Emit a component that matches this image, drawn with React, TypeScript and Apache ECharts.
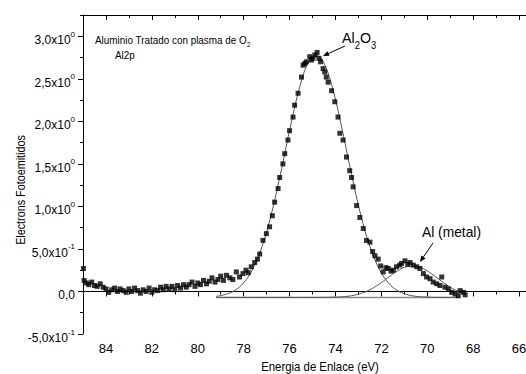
import React, { useEffect, useRef } from 'react';
import * as echarts from 'echarts';

const FONT = "'Liberation Sans', Arial, sans-serif";

// Measured XPS spectrum (Binding energy eV, intensity)
const spectrum: [number, number][] = [
  [84.98, 0.27], [84.95, 0.13], [84.85, 0.10], [84.75, 0.08], [84.62, 0.11], [84.5, 0.07], [84.38, 0.06],
  [84.25, 0.09], [84.12, 0.05], [84.0, 0.03], [83.88, -0.01], [83.75, 0.02], [83.62, 0.04], [83.5, 0.0],
  [83.38, 0.03], [83.25, 0.01], [83.12, -0.01], [83.0, 0.03], [82.88, 0.0], [82.75, 0.04], [82.62, 0.01],
  [82.5, -0.02], [82.38, 0.02], [82.25, 0.0], [82.12, 0.04], [82.0, -0.01], [81.88, 0.02], [81.75, 0.01],
  [81.62, 0.05], [81.5, 0.02], [81.38, 0.06], [81.25, 0.03], [81.12, 0.06], [81.0, 0.02], [80.88, 0.07],
  [80.75, 0.04], [80.62, 0.08], [80.5, 0.05], [80.38, 0.08], [80.25, 0.11], [80.12, 0.06], [80.0, 0.10],
  [79.88, 0.08], [79.75, 0.13], [79.62, 0.09], [79.5, 0.12], [79.38, 0.16], [79.25, 0.11], [79.12, 0.14],
  [79.0, 0.18], [78.88, 0.13], [78.75, 0.19], [78.6, 0.16], [78.47, 0.14], [78.32, 0.23], [78.18, 0.17],
  [78.03, 0.21], [77.9, 0.25], [77.8, 0.22], [77.67, 0.29], [77.52, 0.34], [77.4, 0.38], [77.3, 0.44],
  [77.16, 0.60], [77.01, 0.68], [76.87, 0.76], [76.75, 0.89], [76.65, 1.05], [76.5, 1.21], [76.43, 1.34],
  [76.29, 1.50], [76.21, 1.62], [76.07, 1.78], [76.0, 1.89], [75.85, 2.05], [75.78, 2.19], [75.63, 2.33],
  [75.48, 2.52], [75.41, 2.66], [75.34, 2.68], [75.27, 2.70], [75.12, 2.76], [75.05, 2.72], [74.98, 2.74],
  [74.9, 2.78], [74.8, 2.81], [74.72, 2.74], [74.65, 2.70], [74.54, 2.62], [74.47, 2.58], [74.4, 2.52],
  [74.32, 2.46], [74.17, 2.36], [74.03, 2.23], [73.89, 2.05], [73.81, 1.86], [73.67, 1.78], [73.52, 1.58],
  [73.38, 1.42], [73.3, 1.34], [73.23, 1.23], [73.08, 1.01], [72.94, 0.87], [72.79, 0.74], [72.65, 0.60],
  [72.5, 0.58], [72.38, 0.47], [72.28, 0.42], [72.14, 0.38], [72.03, 0.30], [71.92, 0.23], [71.8, 0.28],
  [71.7, 0.27], [71.58, 0.24], [71.48, 0.25], [71.34, 0.29], [71.2, 0.31], [71.12, 0.33], [70.97, 0.36],
  [70.85, 0.32], [70.75, 0.34], [70.61, 0.31], [70.46, 0.29], [70.32, 0.27], [70.17, 0.21], [70.03, 0.17],
  [69.88, 0.15], [69.74, 0.11], [69.59, 0.09], [69.45, 0.07], [69.37, 0.17], [69.23, 0.05], [69.08, 0.03],
  [68.93, -0.01], [68.79, -0.03], [68.65, -0.05], [68.57, 0.01], [68.43, -0.01], [68.35, -0.04],
];

// Fitted components
const fitX = [79.2, 78.8, 78.4, 78.0, 77.6, 77.2, 76.8, 76.4, 76.0, 75.6, 75.2, 74.85, 74.5, 74.1,
  73.7, 73.3, 72.9, 72.5, 72.1, 71.7, 71.3, 70.9, 70.5, 70.1, 69.7, 69.3, 68.9, 68.6];
const fitAl2O3 = [-0.057, -0.035, 0.011, 0.102, 0.266, 0.528, 0.903, 1.375, 1.891, 2.361, 2.683, 2.78,
  2.683, 2.361, 1.891, 1.375, 0.903, 0.528, 0.266, 0.102, 0.011, -0.035, -0.057, -0.065, -0.069, -0.07, -0.07, -0.07];
const fitMetal = [-0.07, -0.07, -0.07, -0.07, -0.07, -0.07, -0.07, -0.07, -0.07, -0.07, -0.07, -0.07,
  -0.069, -0.067, -0.062, -0.05, -0.024, 0.02, 0.085, 0.165, 0.241, 0.291, 0.297, 0.257, 0.185, 0.104, 0.034, -0.005];
const baselineX = [79.2, 68.6];
const baselineY = [-0.07, -0.07];

const yTickValues = [-0.5, 0, 0.5, 1, 1.5, 2, 2.5, 3];
const yTickMantissa = ['-5,0x10', '0,0', '5,0x10', '1,0x10', '1,5x10', '2,0x10', '2,5x10', '3,0x10'];
const yTickExponent = ['-1', '', '-1', '0', '0', '0', '0', '0'];

const xTitle = 'Energia de Enlace (eV)';
const yTitle = 'Electrons Fotoemitidos';

export default function App() {
  const ref = useRef<HTMLDivElement>(null);
  useEffect(() => {
    if (!ref.current) return;
    const chart = echarts.init(ref.current, undefined, { renderer: 'svg' });
    const zip = (xs: number[], ys: number[]) => xs.map((x, i) => [x, ys[i]]);
    const axisCommonX = { type: 'value', min: 64, max: 85, inverse: true, splitLine: { show: false } };
    const axisCommonY = { type: 'value', min: -0.5, max: 3.25, splitLine: { show: false } };
    const black = { color: '#000', width: 1 };
    const option: any = {
      animation: false,
      backgroundColor: '#fff',
      grid: { left: 83, top: 15, right: -39, bottom: 40, containLabel: false, outerBoundsMode: 'none' },
      xAxis: [
        {
          ...axisCommonX, position: 'bottom', interval: 2,
          axisLine: { lineStyle: black },
          axisTick: { inside: false, length: 5, lineStyle: black },
          axisLabel: { showMaxLabel: false, showMinLabel: false, color: '#000', fontSize: 13, fontFamily: FONT, margin: 8 },
        },
        {
          ...axisCommonX, position: 'bottom', interval: 1,
          axisLine: { show: false },
          axisTick: { inside: false, length: 3, lineStyle: black },
          axisLabel: { show: false },
        },
        {
          ...axisCommonX, position: 'top', interval: 2,
          axisLine: { lineStyle: black },
          axisTick: { inside: true, length: 5, lineStyle: black },
          axisLabel: { show: false },
        },
        {
          ...axisCommonX, position: 'top', interval: 1,
          axisLine: { show: false },
          axisTick: { inside: true, length: 3, lineStyle: black },
          axisLabel: { show: false },
        },
      ],
      yAxis: [
        {
          ...axisCommonY, position: 'left', interval: 0.5,
          axisLine: { show: true, lineStyle: black },
          axisTick: { show: true, inside: false, length: 5, lineStyle: black },
          axisLabel: {
            showMaxLabel: false,
            margin: 8,
            formatter: (v: number) => {
              const i = yTickValues.findIndex((t) => Math.abs(t - v) < 1e-6);
              if (i < 0) return '';
              const e = yTickExponent[i];
              return e ? `{n|${yTickMantissa[i]}}{s|${e}}` : `{n|${yTickMantissa[i]}}`;
            },
            rich: {
              n: { fontSize: 12, fontFamily: FONT, color: '#000', padding: [4, 0, 0, 0], lineHeight: 12, verticalAlign: 'top' },
              s: { fontSize: 8, fontFamily: FONT, color: '#000', lineHeight: 8, verticalAlign: 'top' },
            },
          },
        },
        {
          ...axisCommonY, position: 'left', interval: 0.25,
          axisLine: { show: false },
          axisTick: { show: true, inside: false, length: 3, lineStyle: black },
          axisLabel: { show: false },
        },
      ],
      series: [
        {
          type: 'line', data: zip(baselineX, baselineY), xAxisIndex: 0, yAxisIndex: 0,
          showSymbol: false, lineStyle: { color: '#8a8a8a', width: 1.5 }, z: 1,
        },
        {
          type: 'line', data: zip(fitX, fitAl2O3), xAxisIndex: 0, yAxisIndex: 0, smooth: 0.4,
          showSymbol: false, lineStyle: { color: '#555', width: 1 }, z: 2,
        },
        {
          type: 'line', data: zip(fitX, fitMetal), xAxisIndex: 0, yAxisIndex: 0, smooth: 0.4,
          showSymbol: false, lineStyle: { color: '#555', width: 1 }, z: 2,
        },
        {
          type: 'scatter', data: spectrum, xAxisIndex: 0, yAxisIndex: 0, clip: false,
          symbol: 'rect', symbolSize: 5, itemStyle: { color: '#000' }, z: 3,
        },
      ],
      graphic: [
        {
          type: 'text', x: 95, y: 35, scaleX: 0.9,
          style: {
            text: '{n|Aluminio Tratado con plasma de O}{s|2}',
            rich: {
              n: { fontSize: 11, fontFamily: FONT, fill: '#000', lineHeight: 11, verticalAlign: 'top' },
              s: { fontSize: 7, fontFamily: FONT, fill: '#000', lineHeight: 7, padding: [6, 0, 0, 0], verticalAlign: 'top' },
            },
            align: 'left', verticalAlign: 'top',
          },
        },
        {
          type: 'text', x: 115, y: 50, scaleX: 0.9,
          style: { text: 'Al2p', fontSize: 11, fontFamily: FONT, fill: '#000', align: 'left', verticalAlign: 'top' },
        },
        {
          type: 'text', x: 342, y: 30, scaleX: 0.95,
          style: {
            text: '{n|Al}{s|2}{n|O}{s|3}',
            rich: {
              n: { fontSize: 15, fontFamily: FONT, fill: '#000', lineHeight: 16, verticalAlign: 'top' },
              s: { fontSize: 10, fontFamily: FONT, fill: '#000', lineHeight: 10, padding: [10, 0, 0, 0], verticalAlign: 'top' },
            },
            align: 'left', verticalAlign: 'top',
          },
        },
        { type: 'line', shape: { x1: 345, y1: 46, x2: 326, y2: 54.6 }, style: { stroke: '#000', lineWidth: 1 } },
        { type: 'polygon', shape: { points: [[323, 56], [329.5, 55.8], [327.4, 51.2]] }, style: { fill: '#000' } },
        {
          type: 'text', x: 422, y: 224, scaleX: 0.92,
          style: { text: 'Al (metal)', fontSize: 15, fontFamily: FONT, fill: '#000', align: 'left', verticalAlign: 'top' },
        },
        { type: 'line', shape: { x1: 433, y1: 243, x2: 422, y2: 259 }, style: { stroke: '#000', lineWidth: 1 } },
        { type: 'polygon', shape: { points: [[420, 262], [425.5, 258.4], [421.3, 255.6]] }, style: { fill: '#000' } },
        {
          type: 'text', x: 320, y: 366, scaleX: 0.95,
          style: { text: xTitle, fontSize: 12, fontFamily: FONT, fill: '#000', align: 'center', verticalAlign: 'middle' },
        },
        {
          type: 'text', x: 21, y: 190, rotation: Math.PI / 2, scaleX: 0.9,
          style: { text: yTitle, fontSize: 12, fontFamily: FONT, fill: '#000', align: 'center', verticalAlign: 'middle' },
        },
      ],
    };
    chart.setOption(option);
    return () => chart.dispose();
  }, []);
  return <div ref={ref} style={{ position: 'absolute', left: 0, top: 0, width: 526, height: 374 }} />;
}
